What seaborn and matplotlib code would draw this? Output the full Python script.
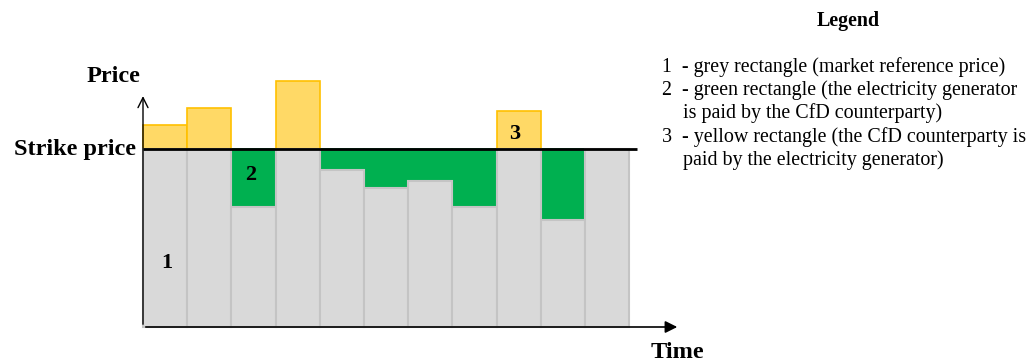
import numpy as np
import pandas as pd
import matplotlib
matplotlib.use("Agg")
import matplotlib.pyplot as plt
import seaborn as sns

# ==== data ====
periods = [1, 2, 3, 4, 5, 6, 7, 8, 9, 10, 11]
prices = [113, 123, 67, 138, 88, 78, 82, 67, 121, 60, 100]
strike = 100

legend_title = "Legend"
legend_lines = [
    "1  - grey rectangle (market reference price)",
    "2  - green rectangle (the electricity generator",
    "is paid by the CfD counterparty)",
    "3  - yellow rectangle (the CfD counterparty is",
    "paid by the electricity generator)",
]

GREY, GREY_EDGE = "#D9D9D9", "#C4C4C4"
GREEN = "#00B050"
YELLOW, YELLOW_EDGE = "#FFD966", "#FFC000"

sns.set_theme(style="white")
plt.rcParams['font.family'] = ['Liberation Serif', 'DejaVu Serif']
plt.rcParams['text.color'] = 'black'

df = pd.DataFrame({"period": periods, "price": prices})
df["top"] = df["price"].clip(lower=strike)    # coloured part reaches max(price, strike)
df["grey"] = df["price"].clip(upper=strike)   # market price below the strike

fig = plt.figure(figsize=(10.35, 3.62), dpi=100)
ax = fig.add_axes([0, 0, 1, 1])

# layer 1: coloured bars (yellow above strike, green below)
fill = [YELLOW if p > strike else (GREEN if p < strike else GREY) for p in prices]
edge = [YELLOW_EDGE if p > strike else (GREEN if p < strike else GREY_EDGE) for p in prices]
sns.barplot(data=df, x="period", y="top", hue="period", palette=fill,
            width=1, legend=False, ax=ax, linewidth=1.2, saturation=1)
n_first = len(ax.patches)
for patch in ax.patches:
    i = int(round(patch.get_x() + patch.get_width() / 2))
    patch.set_facecolor(fill[i])
    patch.set_edgecolor(edge[i])

# layer 2: grey market reference price
sns.barplot(data=df, x="period", y="grey", color=GREY, width=1,
            ax=ax, linewidth=1.5, edgecolor=GREY_EDGE, saturation=1)
for patch in ax.patches[n_first:]:
    patch.set_facecolor(GREY)

# pixels -> data: x: 143px = -0.5, 44.2 px per bar; y: 327px = 0, 1.784 px per unit
px_x, px_y = 44.2, 1.784
ax.set_xlim(-0.5 - 143 / px_x, -0.5 + (1035 - 143) / px_x)
ax.set_ylim(-(362 - 327) / px_y, 327 / px_y)
ax.set_axis_off()

# strike line
ax.plot([-0.5, 10.67], [strike, strike], color="black", lw=2, solid_capstyle="butt", zorder=5)

# axes with arrows
ax.annotate("", xy=(-0.5, 131), xytext=(-0.5, 0),
            arrowprops=dict(arrowstyle="->", color="black", lw=1, mutation_scale=18), zorder=6)
ax.annotate("", xy=(11.65, 0), xytext=(-0.5, 0),
            arrowprops=dict(arrowstyle="-|>", color="black", lw=1.2, mutation_scale=18), zorder=6)


def fx(px):
    return px / 1035


def fy(py):
    return 1 - py / 362


fig.text(fx(113), fy(76), "Price", ha="center", va="center", fontsize=17.5, fontweight="bold")
fig.text(fx(136), fy(150), "Strike price", ha="right", va="center", fontsize=17.5, fontweight="bold")
fig.text(fx(677), fy(352), "Time", ha="center", va="center", fontsize=17.5, fontweight="bold")
fig.text(fx(167), fy(263), "1", ha="center", va="center", fontsize=16, fontweight="bold")
fig.text(fx(251), fy(175), "2", ha="center", va="center", fontsize=16, fontweight="bold")
fig.text(fx(515), fy(134), "3", ha="center", va="center", fontsize=16, fontweight="bold")

fig.text(fx(848), fy(21), legend_title, ha="center", va="center", fontsize=14.4, fontweight="bold")
legend_x = [662, 662, 683, 662, 683]
legend_y = [67, 90, 113, 137, 160]
for txt, lx, ly in zip(legend_lines, legend_x, legend_y):
    fig.text(fx(lx), fy(ly), txt, ha="left", va="center", fontsize=14.4)

fig.savefig("out.png", dpi=100)
